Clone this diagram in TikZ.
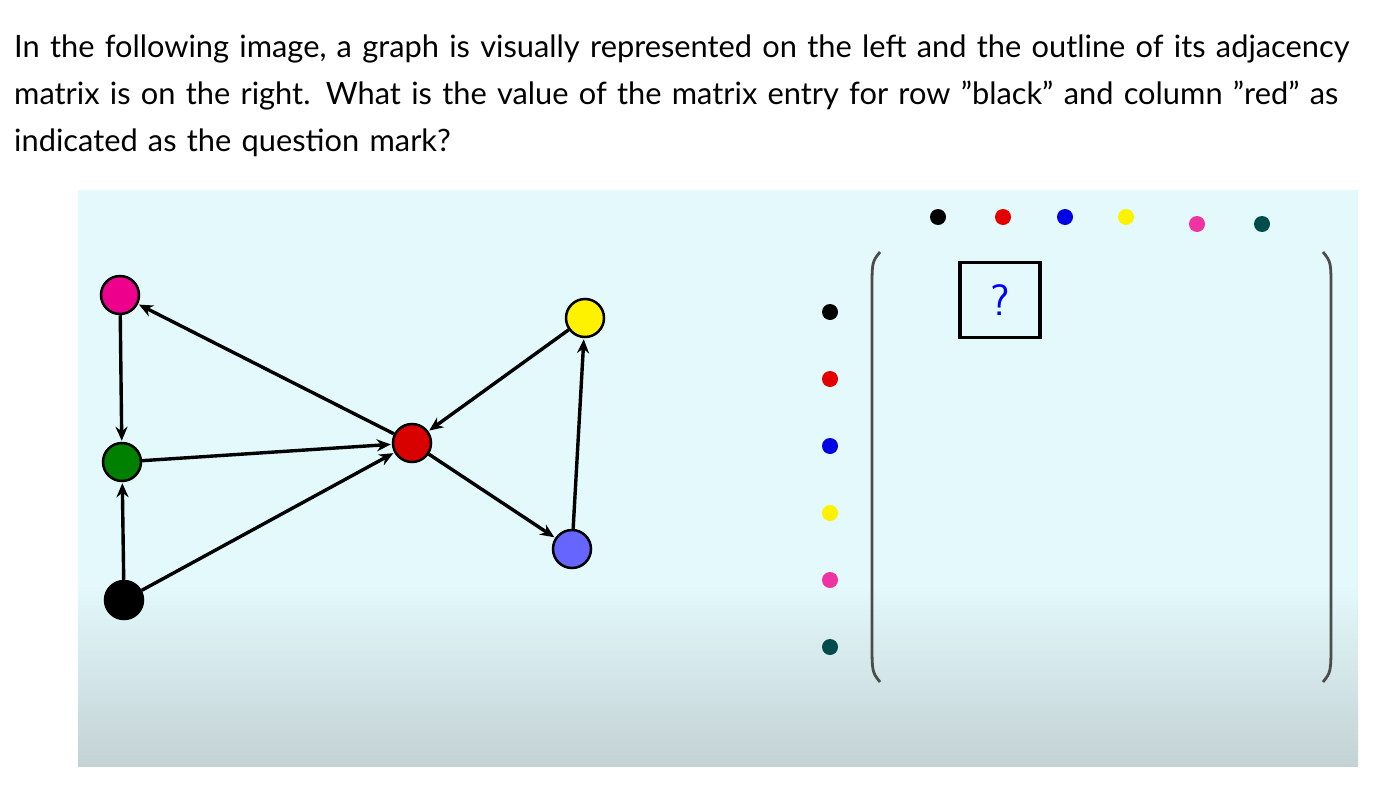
\documentclass[tikz,border=0pt]{standalone}
\usepackage{fontspec}
\defaultfontfeatures{}
\setmainfont{Lato}[Ligatures=ResetAll]
\usetikzlibrary{arrows.meta}
\definecolor{bgc}{HTML}{E3F9FB}
\definecolor{bgb}{HTML}{C3D2D5}
\tikzset{vert/.style={circle,draw=black,line width=2.5pt,minimum size=38pt,inner sep=0pt},
 edge/.style={line width=3.4pt,-{Stealth[length=14pt,width=12pt]},shorten >=1pt},
 dotm/.style={circle,inner sep=0pt,minimum size=16pt},
 par/.style={line width=2.8pt,draw=black!70}}
\begin{document}
\begin{tikzpicture}[x=1pt,y=-1pt]
\useasboundingbox (0,0) rectangle (1384,798);
\fill[white] (0,0) rectangle (1384,798);
\fill[bgc] (78,190) rectangle (1358,585);
\shade[top color=bgc,bottom color=bgb] (78,584) rectangle (1358,766);
\node[anchor=base west,font=\fontsize{30.8}{47}\selectfont,align=left,text width=1375pt,inner sep=0pt] at (14,57)
{In the following image, a graph is visually represented on the left and the outline of its adjacency\\
matrix is on the right. What is the value of the matrix entry for row "black" and column "red" as\\
indicated as the question mark?};
\node[vert,fill=magenta] (m) at (120,295) {};
\node[vert,fill=green!50!black] (g) at (122,462) {};
\node[vert,fill=black] (k) at (124,600) {};
\node[vert,fill=red!85!black] (r) at (412,443) {};
\node[vert,fill=yellow] (y) at (585,318) {};
\node[vert,fill=blue!60] (b) at (572,549) {};
\draw[edge] (k) -- (g);
\draw[edge] (m) -- (g);
\draw[edge] (g) -- (r);
\draw[edge] (k) -- (r);
\draw[edge] (r) -- (m);
\draw[edge] (y) -- (r);
\draw[edge] (r) -- (b);
\draw[edge] (b) -- (y);
\node[dotm,fill=black] (c1) at (938,217) {};
\node[dotm,fill=red!90!black] (c2) at (1003,217) {};
\node[dotm,fill=blue!90!black] (c3) at (1065,217) {};
\node[dotm,fill=yellow] (c4) at (1126,217) {};
\node[dotm,fill=magenta!80] (c5) at (1197,224) {};
\node[dotm,fill=teal!60!black] (c6) at (1262,224) {};
\node[dotm,fill=black] (r1) at (830,312) {};
\node[dotm,fill=red!90!black] (r2) at (830,379) {};
\node[dotm,fill=blue!90!black] (r3) at (830,446) {};
\node[dotm,fill=yellow] (r4) at (830,513) {};
\node[dotm,fill=magenta!80] (r5) at (830,580) {};
\node[dotm,fill=teal!60!black] (r6) at (830,647) {};
\draw[par] (880,252) .. controls (872,262) .. (872,290) -- (872,640) .. controls (872,672) .. (880,682);
\draw[par] (1323,252) .. controls (1331,262) .. (1331,290) -- (1331,640) .. controls (1331,672) .. (1323,682);
\node[draw=black,line width=3.5pt,minimum width=80pt,minimum height=75pt,text=blue,font=\fontsize{44}{44}\selectfont\sffamily] (q) at (1000,300) {?};
\end{tikzpicture}
\end{document}
